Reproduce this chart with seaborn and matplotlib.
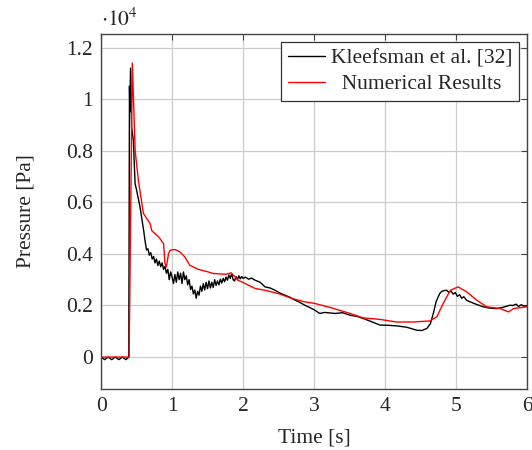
import numpy as np
import pandas as pd
import matplotlib
matplotlib.use('Agg')
import matplotlib.pyplot as plt
import matplotlib.transforms as mtransforms
import seaborn as sns
from matplotlib.ticker import FuncFormatter

# pressure values read in units of 1e4 Pa
t_exp = [0.0, 0.05, 0.1, 0.15, 0.2, 0.25, 0.3, 0.35, 0.39, 0.40, 0.405, 0.415, 0.43, 0.455,
         0.479, 0.50, 0.55, 0.60, 0.62, 0.64, 0.66, 0.68, 0.70, 0.72, 0.74, 0.76, 0.78, 0.80,
         0.82, 0.84, 0.86, 0.88, 0.90, 0.92, 0.94, 0.96, 0.98, 1.00, 1.02, 1.04, 1.06, 1.08,
         1.10, 1.12, 1.14, 1.16, 1.18, 1.20, 1.22, 1.24, 1.26, 1.28, 1.30, 1.32, 1.34, 1.36,
         1.38, 1.40, 1.42, 1.44, 1.46, 1.48, 1.50, 1.52, 1.54, 1.56, 1.58, 1.60, 1.62, 1.64,
         1.66, 1.68, 1.70, 1.72, 1.74, 1.76, 1.78, 1.80, 1.82, 1.84, 1.86, 1.88, 1.90, 1.92,
         1.94, 1.96, 1.98, 2.00, 2.03, 2.08, 2.12, 2.17, 2.24, 2.31, 2.38, 2.45, 2.52, 2.59,
         2.66, 2.73, 2.80, 2.87, 2.94, 3.01, 3.08, 3.15, 3.30, 3.40, 3.51, 3.60, 3.69, 3.80,
         3.93, 4.05, 4.16, 4.30, 4.45, 4.52, 4.59, 4.64, 4.68, 4.72, 4.77, 4.80, 4.84, 4.87,
         4.90, 4.93, 4.96, 4.99, 5.02, 5.05, 5.08, 5.11, 5.15, 5.20, 5.28, 5.38, 5.47, 5.57,
         5.65, 5.70, 5.76, 5.80, 5.85, 5.88, 5.92, 5.96, 6.0]
p_exp = [0.0, -0.01, 0.0, -0.01, 0.0, -0.01, 0.0, -0.01, 0.0, 1.05, 0.95, 1.12, 0.89, 0.84,
         0.673, 0.647, 0.58, 0.49, 0.45, 0.415, 0.42, 0.395, 0.405, 0.38, 0.39, 0.365, 0.38,
         0.355, 0.372, 0.35, 0.365, 0.34, 0.352, 0.325, 0.34, 0.30, 0.33, 0.31, 0.285, 0.32,
         0.29, 0.33, 0.30, 0.325, 0.285, 0.33, 0.30, 0.315, 0.28, 0.30, 0.262, 0.275, 0.245,
         0.26, 0.228, 0.255, 0.24, 0.275, 0.255, 0.285, 0.26, 0.29, 0.265, 0.295, 0.268, 0.29,
         0.27, 0.30, 0.278, 0.295, 0.28, 0.302, 0.287, 0.305, 0.292, 0.31, 0.298, 0.318,
         0.305, 0.325, 0.30, 0.295, 0.312, 0.30, 0.315, 0.303, 0.312, 0.305, 0.31, 0.302,
         0.306, 0.298, 0.29, 0.272, 0.268, 0.259, 0.248, 0.24, 0.232, 0.221, 0.212, 0.201,
         0.192, 0.182, 0.169, 0.173, 0.169, 0.172, 0.162, 0.158, 0.15, 0.138, 0.124, 0.123,
         0.121, 0.116, 0.104, 0.103, 0.111, 0.13, 0.169, 0.215, 0.246, 0.255, 0.258, 0.259,
         0.25, 0.256, 0.244, 0.25, 0.235, 0.242, 0.228, 0.234, 0.22, 0.214, 0.205, 0.195,
         0.19, 0.188, 0.192, 0.196, 0.201, 0.20, 0.205, 0.196, 0.203, 0.197, 0.198]

t_num = [0.0, 0.395, 0.44, 0.48, 0.525, 0.596, 0.69, 0.714, 0.81, 0.88, 0.90, 0.92, 0.95,
         0.97, 1.04, 1.11, 1.18, 1.25, 1.37, 1.51, 1.58, 1.75, 1.83, 1.89, 1.93, 2.03, 2.17,
         2.31, 2.50, 2.69, 2.87, 3.01, 3.23, 3.51, 3.69, 3.93, 4.16, 4.40, 4.63, 4.73, 4.82,
         4.92, 5.03, 5.15, 5.29, 5.43, 5.62, 5.74, 5.81, 6.0]
p_num = [0.0, 0.0, 1.14, 0.80, 0.686, 0.557, 0.518, 0.49, 0.466, 0.44, 0.363, 0.35, 0.40,
         0.414, 0.417, 0.408, 0.388, 0.356, 0.34, 0.33, 0.324, 0.321, 0.326, 0.311, 0.298,
         0.285, 0.266, 0.259, 0.246, 0.227, 0.214, 0.208, 0.192, 0.169, 0.152, 0.146, 0.136,
         0.136, 0.14, 0.156, 0.208, 0.259, 0.272, 0.253, 0.221, 0.195, 0.188, 0.175, 0.188,
         0.195]

labels = ['Kleefsman et al. [32]', 'Numerical Results']

df = pd.concat([
    pd.DataFrame({'Time': t_exp, 'Pressure': p_exp, 'Source': labels[0]}),
    pd.DataFrame({'Time': t_num, 'Pressure': p_num, 'Source': labels[1]}),
])

sns.set_style('white')
plt.rcParams['font.family'] = ['Liberation Serif', 'DejaVu Serif']
plt.rcParams['mathtext.fontset'] = 'stix'
fs = 15.5

fig = plt.figure(figsize=(5.32, 4.5), dpi=100)
ax = fig.add_axes([0.190, 0.136, 0.8006, 0.7882])

sns.lineplot(data=df, x='Time', y='Pressure', hue='Source', palette=['black', 'red'],
             sort=False, estimator=None, linewidth=1.0, ax=ax)

ax.set_xlim(0, 6)
ax.set_ylim(-0.123, 1.252)
ax.set_xticks(range(0, 7))
ax.set_yticks([0, 0.2, 0.4, 0.6, 0.8, 1.0, 1.2])
ax.yaxis.set_major_formatter(FuncFormatter(lambda v, p: '%g' % round(v, 2)))
ax.grid(True, color='#cccccc', linewidth=0.9)
ax.tick_params(direction='in', length=4, labelsize=fs, top=True, right=True,
               color='#444444', pad=6)
for s in ax.spines.values():
    s.set_color('#444444')
    s.set_linewidth(1.0)

ax.set_xlabel('Time [s]', fontsize=fs, labelpad=9)
ax.set_ylabel('Pressure [Pa]', fontsize=fs, labelpad=22)

# scale note above the y axis
offset = mtransforms.ScaledTranslation(0, 0.08, fig.dpi_scale_trans)
ax.text(0.0, 1.0, r'$\cdot 10^4$', transform=ax.transAxes + offset,
        fontsize=fs, ha='left', va='baseline')

handles, _ = ax.get_legend_handles_labels()
leg = ax.legend(handles, [labels[0], '  ' + labels[1]], loc='upper right', fontsize=fs,
                frameon=True, fancybox=False, framealpha=1, edgecolor='#333333',
                borderaxespad=0.35, handlelength=1.72, handletextpad=0.28,
                borderpad=0.33, labelspacing=0.25)
leg.get_frame().set_linewidth(0.9)

fig.savefig('out.png', dpi=100)
